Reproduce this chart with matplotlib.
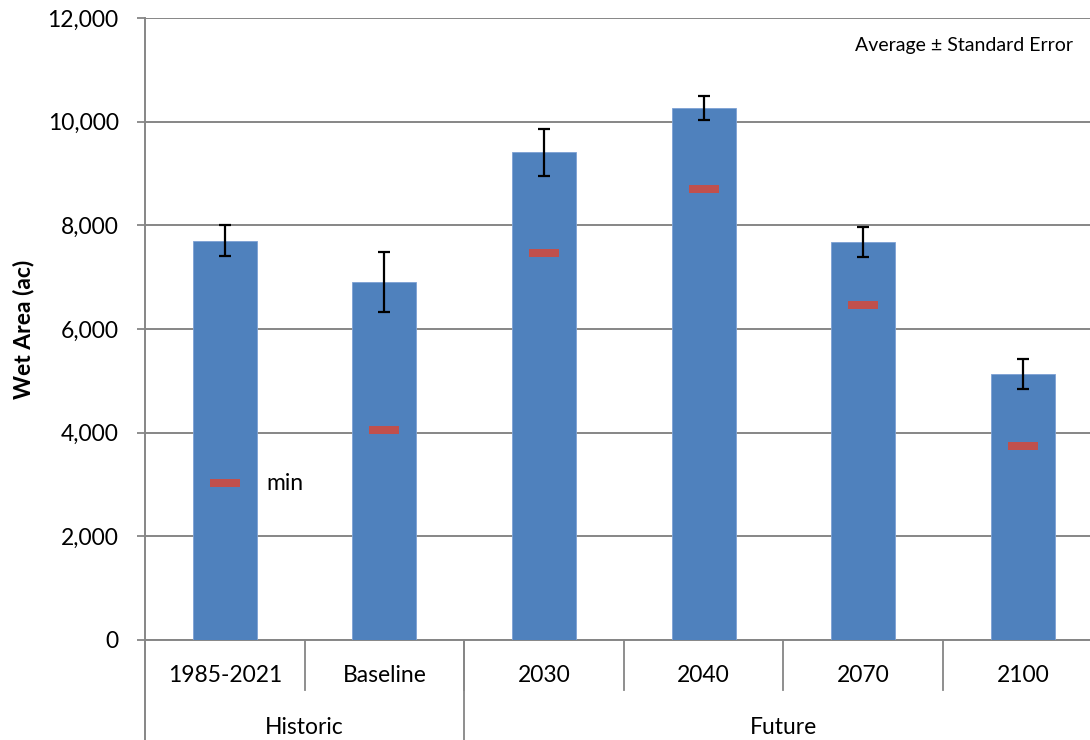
import matplotlib
matplotlib.use("Agg")
import matplotlib.pyplot as plt
import matplotlib.ticker as mticker
import numpy as np

plt.rcParams["font.family"] = ["Lato", "DejaVu Sans"]

# data
categories = ["1985-2021", "Baseline", "2030", "2040", "2070", "2100"]
groups = ["Historic", "Future"]
group_sizes = [2, 4]
avg_area = [7705, 6910, 9410, 10260, 7675, 5130]
std_err = [305, 575, 455, 230, 290, 295]
min_area = [3025, 4055, 7465, 8705, 6455, 3745]

BAR = "#4F81BD"
RED = "#C0504D"
GRID = "#868686"

fig = plt.figure(figsize=(10.9, 7.4), dpi=100)
ax = fig.add_axes([145 / 1090, 100 / 740, 957.6 / 1090, 622 / 740])

x = np.arange(len(categories))
ax.bar(x, avg_area, width=0.4, color=BAR, edgecolor="#7da1d4", linewidth=0.6, zorder=3)
ax.errorbar(x, avg_area, yerr=std_err, fmt="none", ecolor="black", elinewidth=1.6,
            capsize=4.5, capthick=1.6, zorder=4)

# min markers: flat red rectangles
rect = [(-2, -0.5), (2, -0.5), (2, 0.5), (-2, 0.5), (-2, -0.5)]
ax.plot(x, min_area, ls="none", marker=rect, markersize=21, color=RED,
        markeredgewidth=0, zorder=5)
ax.text(0.26, min_area[0], "min", ha="left", va="center", fontsize=16.5)

ax.set_xlim(-0.5, 5.5)
ax.set_ylim(0, 12000)
ax.set_yticks(np.arange(0, 12001, 2000))
ax.yaxis.set_major_formatter(mticker.StrMethodFormatter("{x:,.0f}"))
ax.tick_params(axis="y", length=6, width=1.3, color=GRID, pad=13, labelsize=16.5)
ax.set_xticks([])
ax.grid(axis="y", color=GRID, lw=1.4, zorder=0)
ax.set_axisbelow(True)

for s in ["top", "right"]:
    ax.spines[s].set_visible(False)
for s in ["left", "bottom"]:
    ax.spines[s].set_color(GRID)
    ax.spines[s].set_linewidth(1.4)

# two-level category axis
trans = ax.get_xaxis_transform()
tick_len = 50 / 622
full_len = 101 / 622
for i in range(len(categories)):
    ax.text(x[i], -35 / 622, categories[i], transform=trans, ha="center", va="center",
            fontsize=16.5)
for b in np.arange(0.5, len(categories) - 1, 1.0):
    ax.plot([b, b], [0, -tick_len], transform=trans, color=GRID, lw=1.3, clip_on=False)

start = -0.5
ax.plot([start, start], [0, -full_len], transform=trans, color=GRID, lw=1.4, clip_on=False)
for name, n in zip(groups, group_sizes):
    end = start + n
    ax.text((start + end) / 2, -87 / 622, name, transform=trans, ha="center",
            va="center", fontsize=16.5)
    if end < len(categories) - 0.5:
        ax.plot([end, end], [0, -full_len], transform=trans, color=GRID, lw=1.3,
                clip_on=False)
    start = end

fig.text(23 / 1090, 1 - 329 / 740, "Wet Area (ac)", rotation=90, ha="center",
         va="center", fontsize=16.5, fontweight="bold")
fig.text(1073 / 1090, 1 - 46 / 740, "Average \u00b1 Standard Error", ha="right",
         va="center", fontsize=14)

fig.savefig("out.png", dpi=100)
